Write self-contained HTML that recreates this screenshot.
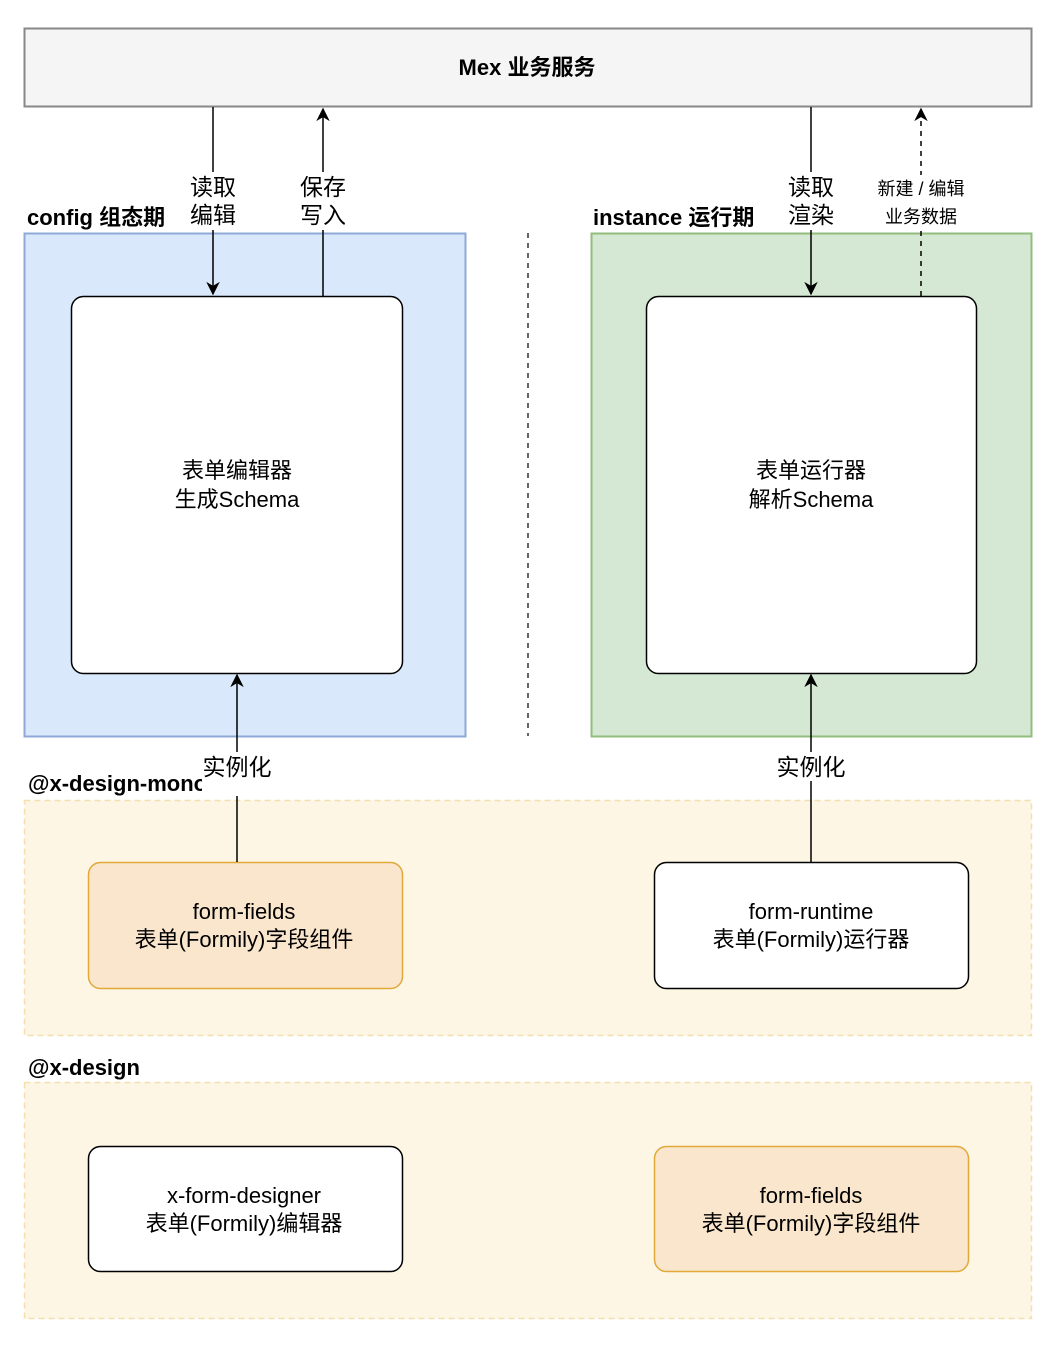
<!DOCTYPE html>
<html><head><meta charset="utf-8"><style>body{margin:0;background:#fff}svg{display:block}text{font-family:"Liberation Sans","Noto Sans CJK SC",sans-serif;}</style></head><body>
<svg width="1055" height="1350" viewBox="0 0 1055 1350" xmlns="http://www.w3.org/2000/svg">
<defs><marker id="a" viewBox="0 0 10 10" refX="9" refY="5" markerWidth="9" markerHeight="9" orient="auto-start-reverse"><path d="M0,0 L10,5 L0,10 L3,5 z" fill="#000"/></marker></defs>
<rect x="24.5" y="28.5" width="1007" height="78" fill="#f5f5f5" stroke="#888" stroke-width="2"/>
<text x="527" y="75" font-size="22" font-weight="bold" text-anchor="middle">Mex 业务服务</text>
<rect x="24.5" y="233.5" width="441" height="503" fill="#dae8fc" stroke="#8fa9d6" stroke-width="2"/>
<rect x="591.5" y="233.5" width="440" height="503" fill="#d5e8d4" stroke="#93bd7c" stroke-width="2"/>
<line x1="528" y1="233" x2="528" y2="736" stroke="#333" stroke-width="1.5" stroke-dasharray="5,5"/>
<rect x="71.5" y="296.5" width="331" height="377" rx="12" fill="#fff" stroke="#000" stroke-width="1.5"/>
<rect x="646.5" y="296.5" width="330" height="377" rx="12" fill="#fff" stroke="#000" stroke-width="1.5"/>
<g font-size="22" text-anchor="middle">
<text x="237" y="478">表单编辑器</text>
<text x="237" y="507">生成Schema</text>
<text x="811" y="478">表单运行器</text>
<text x="811" y="507">解析Schema</text>
</g>
<text x="27" y="225" font-size="22" font-weight="bold">config 组态期</text>
<text x="593" y="225" font-size="22" font-weight="bold">instance 运行期</text>
<rect x="24.5" y="800.5" width="1007" height="235" fill="#fdf6e4" stroke="#f3dfb0" stroke-width="1.5" stroke-dasharray="6,4"/>
<rect x="24.5" y="1082.5" width="1007" height="236" fill="#fdf6e4" stroke="#f3dfb0" stroke-width="1.5" stroke-dasharray="6,4"/>
<text x="28" y="791" font-size="22" font-weight="bold">@x-design-mono</text>
<text x="28" y="1075" font-size="22" font-weight="bold">@x-design</text>
<rect x="88.5" y="862.5" width="314" height="126" rx="12" fill="#fae6cd" stroke="#e0a93a" stroke-width="1.5"/>
<rect x="654.5" y="862.5" width="314" height="126" rx="12" fill="#fff" stroke="#000" stroke-width="1.5"/>
<rect x="88.5" y="1146.5" width="314" height="125" rx="12" fill="#fff" stroke="#000" stroke-width="1.5"/>
<rect x="654.5" y="1146.5" width="314" height="125" rx="12" fill="#fae6cd" stroke="#e0a93a" stroke-width="1.5"/>
<g font-size="22" text-anchor="middle">
<text x="244" y="919">form-fields</text><text x="244" y="947">表单(Formily)字段组件</text>
<text x="811" y="919">form-runtime</text><text x="811" y="947">表单(Formily)运行器</text>
<text x="244" y="1203">x-form-designer</text><text x="244" y="1231">表单(Formily)编辑器</text>
<text x="811" y="1203">form-fields</text><text x="811" y="1231">表单(Formily)字段组件</text>
</g>
<g stroke="#000" stroke-width="1.5" fill="none">
<line x1="213" y1="107" x2="213" y2="294" marker-end="url(#a)"/>
<line x1="323" y1="296" x2="323" y2="109" marker-end="url(#a)"/>
<line x1="811" y1="107" x2="811" y2="294" marker-end="url(#a)"/>
<line x1="921" y1="296" x2="921" y2="109" stroke-dasharray="5,5" marker-end="url(#a)"/>
<line x1="237" y1="862" x2="237" y2="675" marker-end="url(#a)"/>
<line x1="811" y1="862" x2="811" y2="675" marker-end="url(#a)"/>
</g>
<g fill="#fff">
<rect x="187" y="172" width="52" height="58"/><rect x="297" y="172" width="52" height="58"/>
<rect x="785" y="172" width="52" height="58"/><rect x="870" y="175" width="102" height="54"/>
<rect x="202" y="752" width="70" height="44"/><rect x="775" y="752" width="72" height="29"/>
</g>
<g font-size="23" text-anchor="middle">
<text x="213" y="195">读取</text><text x="213" y="223">编辑</text>
<text x="323" y="195">保存</text><text x="323" y="223">写入</text>
<text x="811" y="195">读取</text><text x="811" y="223">渲染</text>
<text x="237" y="775">实例化</text><text x="811" y="775">实例化</text>
</g>
<text x="921" y="195" font-size="18" text-anchor="middle">新建 / 编辑</text>
<text x="921" y="223" font-size="18" text-anchor="middle">业务数据</text>
</svg>
</body></html>
